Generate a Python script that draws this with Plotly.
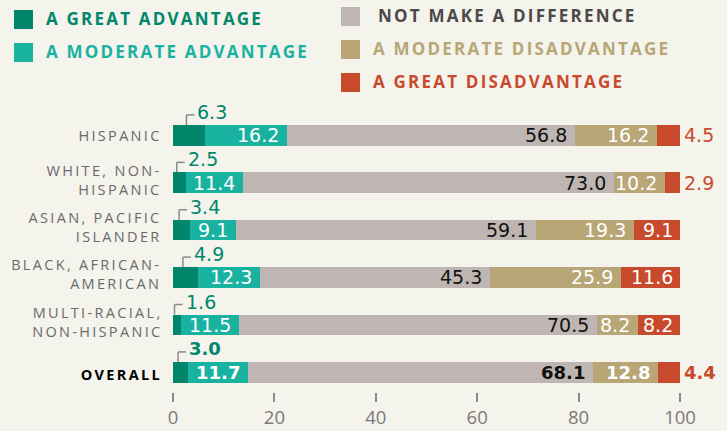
import plotly.graph_objects as go

# ---------------- data ----------------
categories = ["HISPANIC", "WHITE, NON-HISPANIC", "ASIAN, PACIFIC ISLANDER",
              "BLACK, AFRICAN-AMERICAN", "MULTI-RACIAL, NON-HISPANIC", "OVERALL"]
category_labels = ["HISPANIC", "WHITE, NON-<br>HISPANIC", "ASIAN, PACIFIC<br>ISLANDER",
                   "BLACK, AFRICAN-<br>AMERICAN", "MULTI-RACIAL,<br>NON-HISPANIC", "OVERALL"]
series_names = ["A GREAT ADVANTAGE", "A MODERATE ADVANTAGE", "NOT MAKE A DIFFERENCE",
                "A MODERATE DISADVANTAGE", "A GREAT DISADVANTAGE"]
great_adv = [6.3, 2.5, 3.4, 4.9, 1.6, 3.0]
moderate_adv = [16.2, 11.4, 9.1, 12.3, 11.5, 11.7]
no_diff = [56.8, 73.0, 59.1, 45.3, 70.5, 68.1]
moderate_dis = [16.2, 10.2, 19.3, 25.9, 8.2, 12.8]
great_dis = [4.5, 2.9, 9.1, 11.6, 8.2, 4.4]
x_ticks = [0, 20, 40, 60, 80, 100]

# ---------------- style ----------------
BG = "#f4f3ec"
colors = ["#00876b", "#19b2a1", "#bfb6b3", "#b8a676", "#c84a2c"]
legend_text_colors = ["#00876b", "#19b2a1", "#4a4848", "#b8a676", "#c84a2c"]
label_colors = ["#00876b", "#ffffff", "#111111", "#ffffff", "#ffffff"]

W, H = 727, 431
ML, MR, MT, MB = 173, 47, 110, 39
PW, PH = W - ML - MR, H - MT - MB
Y_RANGE = [5.416, -0.534]
BAR_W = 0.437
UY = (Y_RANGE[0] - Y_RANGE[1]) / PH   # y data units per pixel
UX = 100.0 / PW                        # x data units per pixel


def pxx(x):
    return (x - ML) / PW


def pxy(y):
    return (H - MB - y) / PH


series = [great_adv, moderate_adv, no_diff, moderate_dis, great_dis]

fig = go.Figure()
for name, vals, col in zip(series_names, series, colors):
    fig.add_trace(go.Bar(
        y=categories, x=vals, orientation="h", name=name,
        marker=dict(color=col, line=dict(width=0)), width=BAR_W,
        hovertemplate="%{y}: %{x}<extra>" + name + "</extra>",
    ))

annotations = []
shapes = []
NUM_FONT = "DejaVu Sans"
LBL_FONT = "Open Sans"

for i, cat in enumerate(categories):
    bold = cat == "OVERALL"
    weight = "bold" if bold else "normal"
    nsize = 18 if bold else 19
    ends = []
    cum = 0.0
    for vals in series:
        cum = round(cum + vals[i], 4)
        ends.append(min(cum, 100.0))

    # category label
    annotations.append(dict(
        x=pxx(163.5), xref="paper", y=i, yref="y", xanchor="right", yanchor="middle",
        align="right", text=category_labels[i], showarrow=False,
        yshift=(3 if "<br>" in category_labels[i] else (-2 if bold else 0)),
        font=dict(family=LBL_FONT, size=14.5,
                  color=("#000000" if bold else "#6a6a6a"), weight=("bold" if bold else 500)),
    ))

    # great advantage: bracket + label above
    g = great_adv[i]
    bx = g / 2 - 0.5
    bar_top = i - BAR_W / 2
    br_top = bar_top - 10 * UY
    shapes.append(dict(type="line", xref="x", yref="y", x0=bx, x1=bx, y0=bar_top, y1=br_top,
                       line=dict(color="#8a8a8a", width=1.5)))
    shapes.append(dict(type="line", xref="x", yref="y", x0=bx, x1=bx + 8 * UX, y0=br_top, y1=br_top,
                       line=dict(color="#8a8a8a", width=1.5)))
    annotations.append(dict(
        x=bx + 9 * UX, xref="x", y=br_top, yref="y", xanchor="left", yanchor="middle",
        yshift=3, text=f"{g:.1f}", showarrow=False,
        font=dict(family=NUM_FONT, size=nsize, color=colors[0], weight=weight),
    ))

    # inside labels for moderate adv, no diff, moderate dis
    for k in (1, 2, 3):
        annotations.append(dict(
            x=ends[k], xref="x", y=i, yref="y", xanchor="right", yanchor="middle",
            xshift=-6, yshift=0, text=f"{series[k][i]:.1f}", showarrow=False,
            font=dict(family=NUM_FONT, size=nsize, color=label_colors[k], weight=weight),
        ))
    # great disadvantage
    d = great_dis[i]
    if d >= 5:
        annotations.append(dict(
            x=ends[4], xref="x", y=i, yref="y", xanchor="right", yanchor="middle",
            xshift=-5, text=f"{d:.1f}", showarrow=False,
            font=dict(family=NUM_FONT, size=nsize, color="#ffffff", weight=weight),
        ))
    else:
        annotations.append(dict(
            x=ends[4], xref="x", y=i, yref="y", xanchor="left", yanchor="middle",
            xshift=2, text=f"{d:.1f}", showarrow=False,
            font=dict(family=NUM_FONT, size=nsize, color=colors[4], weight=weight),
        ))

# ---------------- custom legend ----------------
legend_pos = [  # (square x0, square y0, text x, text y)
    (14, 10, 44, 18.5),
    (14, 43, 44, 51.5),
    (341, 7, 376, 15.5),
    (341, 40, 371, 48.5),
    (341, 73, 371, 81.5),
]
SQ = 19
for (sx, sy, tx, ty), name, col, tcol in zip(legend_pos, series_names, colors, legend_text_colors):
    shapes.append(dict(type="rect", xref="paper", yref="paper",
                       x0=pxx(sx), x1=pxx(sx + SQ), y0=pxy(sy), y1=pxy(sy + SQ),
                       fillcolor=col, line=dict(width=0)))
    annotations.append(dict(
        x=pxx(tx), xref="paper", y=pxy(ty), yref="paper", xanchor="left", yanchor="middle",
        align="left", text=name, showarrow=False,
        font=dict(family=LBL_FONT, size=17, color=tcol, weight="bold"),
    ))

fig.update_layout(
    barmode="stack",
    width=W, height=H, autosize=False,
    margin=dict(l=ML, r=MR, t=MT, b=MB, pad=0, autoexpand=False),
    paper_bgcolor=BG, plot_bgcolor=BG,
    showlegend=False,
    xaxis=dict(range=[0, 100], tickvals=x_ticks, ticktext=[str(t) for t in x_ticks],
               showgrid=False, zeroline=False, showline=False, automargin=False,
               ticks="outside", ticklen=9, tickwidth=1.5, tickcolor="#8a8a8a",
               tickfont=dict(family=LBL_FONT, size=18.5, color="#7a7a7a"),
               ticklabelstandoff=0),
    yaxis=dict(range=Y_RANGE, showticklabels=False, showgrid=False, zeroline=False,
               showline=False, ticks="", automargin=False),
    annotations=annotations,
    shapes=shapes,
    bargap=0,
)

post = """
document.body.style.margin = '0';
document.body.style.padding = '0';
document.body.style.background = '#f4f3ec';
var gd = document.getElementById('{plot_id}');
gd.querySelectorAll('text.annotation-text').forEach(function(t){
  var ff = t.style.fontFamily || '';
  if (ff.indexOf('Open Sans') >= 0) {
    var fs = parseFloat(t.style.fontSize || '14');
    t.style.letterSpacing = (fs >= 16.5 ? '0.13em' : '0.16em');
  }
});
"""
fig.write_html("out.html", post_script=post, config={"displayModeBar": False})
